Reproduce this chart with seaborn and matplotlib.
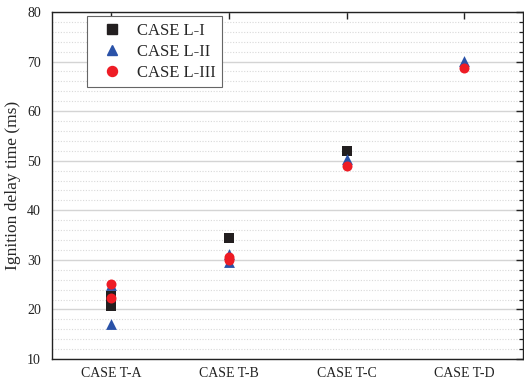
import matplotlib
matplotlib.use("Agg")
import matplotlib.pyplot as plt
from matplotlib.lines import Line2D
from matplotlib.ticker import MultipleLocator, FixedLocator
import pandas as pd
import seaborn as sns

categories = ["CASE T-A", "CASE T-B", "CASE T-C", "CASE T-D"]

case_l1_cat = ["CASE T-A", "CASE T-A", "CASE T-B", "CASE T-C"]
case_l1_val = [22.7, 20.6, 34.5, 52.0]

case_l2_cat = ["CASE T-A", "CASE T-A", "CASE T-B", "CASE T-B", "CASE T-C", "CASE T-D"]
case_l2_val = [25.0, 17.0, 31.1, 29.6, 50.3, 70.1]

case_l3_cat = ["CASE T-A", "CASE T-A", "CASE T-B", "CASE T-B", "CASE T-C", "CASE T-D"]
case_l3_val = [25.2, 22.4, 30.6, 29.9, 48.9, 68.7]

series_names = ["CASE L-I", "CASE L-II", "CASE L-III"]
series_colors = ["#231f20", "#2a52a8", "#ee1c25"]
series_markers = ["s", "^", "o"]
series_sizes = [6.8, 7.8, 7.2]

sns.set_style("white")
plt.rcParams["font.family"] = ["Liberation Serif", "DejaVu Serif"]

fig = plt.figure(figsize=(5.24, 3.83), dpi=100)
ax = fig.add_axes([0.0992, 0.0627, 0.8995, 0.906])

data = [(case_l1_cat, case_l1_val), (case_l2_cat, case_l2_val), (case_l3_cat, case_l3_val)]
for (cats, vals), name, col, mk, sz in zip(data, series_names, series_colors,
                                           series_markers, series_sizes):
    df = pd.DataFrame({"case": cats, "delay": vals})
    sns.stripplot(data=df, x="case", y="delay", order=categories, jitter=False,
                  marker=mk, color=col, size=sz, linewidth=0, ax=ax, zorder=3)

ax.set_xlim(-0.5, 3.5)
ax.set_ylim(10, 80)
ax.set_xlabel("")
ax.set_ylabel("Ignition delay time (ms)", fontsize=12.5, labelpad=4)

ax.yaxis.set_major_locator(MultipleLocator(10))
ax.yaxis.set_minor_locator(MultipleLocator(2))
ax.xaxis.set_minor_locator(FixedLocator([0.5, 1.5, 2.5]))

ax.grid(True, which="major", axis="y", color="#d4d4d4", linewidth=1.0, linestyle="-", zorder=0)
ax.grid(True, which="minor", axis="y", color="#d9d9d9", linewidth=0.8, linestyle=(0, (1, 1.5)), zorder=0)
ax.grid(False, axis="x")
ax.set_axisbelow(True)

ax.tick_params(which="major", direction="in", length=5, width=1.0,
               top=True, right=True, labelsize=10, colors="#222222")
ax.tick_params(which="minor", direction="in", length=3, width=0.9,
               top=False, right=True, colors="#222222")
ax.tick_params(axis="x", which="major", pad=6)
ax.tick_params(axis="y", which="major", pad=8)
for side in ["left", "bottom", "top", "right"]:
    ax.spines[side].set_visible(True)
    ax.spines[side].set_color("#222222")
    ax.spines[side].set_linewidth(1.0)

handles = [Line2D([], [], linestyle="none", marker=mk, color=col, markersize=sz)
           for mk, col, sz in zip(series_markers, series_colors, series_sizes)]
leg = ax.legend(handles, series_names, loc="upper left", bbox_to_anchor=(0.074, 0.988),
                borderaxespad=0, fontsize=12, frameon=True, fancybox=False, framealpha=1,
                edgecolor="#666666", handletextpad=0.4, borderpad=0.4,
                labelspacing=0.3, handlelength=2.2)
leg.get_frame().set_linewidth(0.8)

fig.savefig("out.png", dpi=100)
